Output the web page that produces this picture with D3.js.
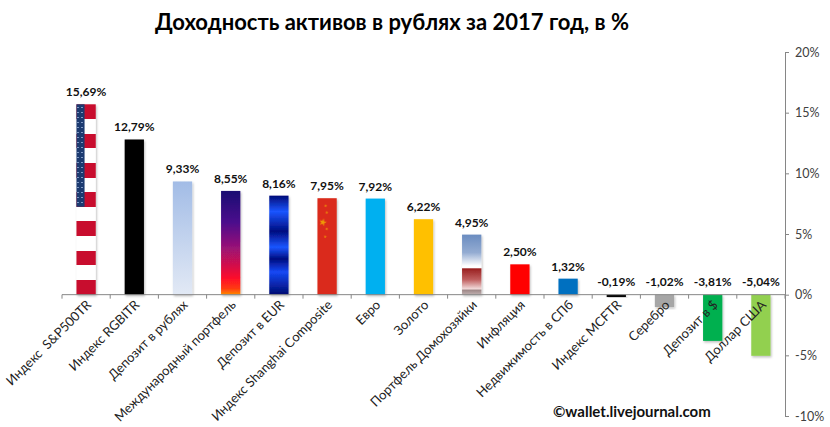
<!DOCTYPE html>
<html><head><meta charset="utf-8">
<script src="https://cdn.jsdelivr.net/npm/d3@7"></script>
<style>
html,body{margin:0;padding:0;background:#fff;}
svg{display:block;}
text{font-family:Lato,"Open Sans",sans-serif;white-space:pre;}
</style></head>
<body>
<svg id="c" width="830" height="427"></svg>
<script>
const categories = ["Индекс  S&P500TR","Индекс RGBITR","Депозит в рублях","Международный портфель","Депозит в EUR","Индекс Shanghai Composite","Евро","Золото","Портфель Домохозяйки","Инфляция","Недвижимость в СПб","Индекс MCFTR","Серебро","Депозит в $","Доллар США"];
const values = [15.69, 12.79, 9.33, 8.55, 8.16, 7.95, 7.92, 6.22, 4.95, 2.50, 1.32, -0.19, -1.02, -3.81, -5.04];
const valueLabels = ["15,69%","12,79%","9,33%","8,55%","8,16%","7,95%","7,92%","6,22%","4,95%","2,50%","1,32%","-0,19%","-1,02%","-3,81%","-5,04%"];
const yTicks = [-10, -5, 0, 5, 10, 15, 20];
const barFills = ["url(#gUS)","#000000","url(#gRub)","url(#gIntl)","url(#gEur)","#da2c1b","#00b0f0","#ffc000","url(#gHouse)","#ff0000","#0070c0","#000000","#a6a6a6","#00b050","#92d050"];
const title = "Доходность активов в рублях за 2017 год, в %";
const credit = "©wallet.livejournal.com";

const svg = d3.select("#c");
const defs = svg.append("defs");

function grad(id, stops){
  const g = defs.append("linearGradient").attr("id", id).attr("x1",0).attr("y1",0).attr("x2",0).attr("y2",1);
  stops.forEach(s => g.append("stop").attr("offset", s[0]).attr("stop-color", s[1]));
}
const usStops = [];
for (let i = 0; i < 13; i++) {
  const c = i % 2 === 0 ? "#c8102e" : "#ffffff";
  usStops.push([i/13, c]); usStops.push([(i+1)/13, c]);
}
grad("gUS", usStops);
grad("gRub", [[0,"#a2bce6"],[1,"#e2e9f5"]]);
grad("gIntl", [[0,"#1a0a72"],[0.3,"#4a0a8c"],[0.55,"#9a1276"],[0.85,"#ff1028"],[0.94,"#ff3a10"],[1,"#ff8a00"]]);
grad("gEur", [[0,"#000c78"],[0.16,"#1a55ff"],[0.36,"#000c80"],[0.52,"#1a55ff"],[0.64,"#000c80"],[0.77,"#1448f5"],[1,"#000a70"]]);
grad("gHouse", [[0,"#6a8cc0"],[0.3,"#94acd2"],[0.52,"#ffffff"],[0.55,"#ffffff"],[0.57,"#9a2020"],[0.75,"#c06060"],[0.9,"#f0d8d8"],[0.93,"#a08a8a"],[1,"#c0b0b0"]]);
const pat = defs.append("pattern").attr("id","pStars").attr("patternUnits","userSpaceOnUse").attr("width",4).attr("height",5);
pat.append("rect").attr("width",4).attr("height",5).attr("fill","#1c3a70");
pat.append("rect").attr("x",1).attr("y",2).attr("width",2).attr("height",1).attr("fill","#7f98c4");
const f = defs.append("filter").attr("id","sh").attr("x","-30%").attr("y","-10%").attr("width","160%").attr("height","130%");
f.append("feDropShadow").attr("dx",1).attr("dy",1.5).attr("stdDeviation",1.2).attr("flood-color","#000").attr("flood-opacity",0.25);
const blur = defs.append("filter").attr("id","bl");
blur.append("feGaussianBlur").attr("stdDeviation",0.6);

const x = d3.scaleBand().domain(categories).range([62, 785]).paddingInner(0.6).paddingOuter(0.3);
const y = d3.scaleLinear().domain([-10, 20]).range([416, 52]);
const step = x.step();

svg.append("text").attr("x", 392).attr("y", 30).attr("text-anchor","middle")
  .attr("font-size", 22).attr("font-weight","bold").attr("fill","#000").text(title);

const bars = svg.append("g");
bars.selectAll("rect").data(values).join("rect")
  .attr("x", (d,i) => x(categories[i]))
  .attr("width", x.bandwidth())
  .attr("y", d => y(Math.max(0,d)))
  .attr("height", d => Math.abs(y(d) - y(0)))
  .attr("fill", (d,i) => barFills[i])
  .attr("filter","url(#sh)");

const usH = y(0) - y(values[0]);
bars.append("rect").attr("x", x(categories[0])).attr("y", y(values[0]))
  .attr("width", x.bandwidth()*0.42).attr("height", usH*7/13).attr("fill","url(#pStars)");

const cx0 = x(categories[5]), cy0 = y(values[5]), cH = y(0) - y(values[5]), bw = x.bandwidth();
const star = d3.symbol().type(d3.symbolStar);
[[0.28,0.25,18],[0.42,0.08,3],[0.48,0.15,3],[0.48,0.32,3],[0.4,0.4,3]].forEach(s => {
  bars.append("path").attr("d", star.size(s[2])())
    .attr("transform", `translate(${cx0 + bw*s[0]},${cy0 + cH*s[1]}) rotate(15)`)
    .attr("fill","#f5b800").attr("opacity",0.8).attr("filter","url(#bl)");
});

const axisColor = "#868686";
svg.append("line").attr("x1", 62).attr("x2", 785).attr("y1", y(0)).attr("y2", y(0)).attr("stroke", axisColor);
svg.append("g").selectAll("line").data(d3.range(categories.length + 1)).join("line")
  .attr("x1", i => 62 + i*step).attr("x2", i => 62 + i*step)
  .attr("y1", y(0)).attr("y2", y(0) + 4).attr("stroke", axisColor);

const ra = svg.append("g").attr("transform", "translate(785,0)")
  .call(d3.axisRight(y).tickValues(yTicks).tickSize(4).tickFormat(d => d + "%"));
ra.select(".domain").attr("stroke", axisColor);
ra.selectAll(".tick line").attr("stroke", axisColor);
ra.selectAll(".tick text").attr("font-family","Lato, sans-serif").attr("font-size", 12.5).attr("fill","#404040").attr("x", 10);

svg.append("g").selectAll("text").data(categories).join("text")
  .attr("transform", d => `translate(${x(d) + x.bandwidth()/2 + 6},${y(0) + 11}) rotate(-45)`)
  .attr("text-anchor","end").attr("font-size", 13).attr("fill","#222").text(d => d);

svg.append("g").selectAll("text").data(values).join("text")
  .attr("x", (d,i) => x(categories[i]) + x.bandwidth()/2)
  .attr("y", d => d >= 0 ? y(d) - 8 : y(0) - 9)
  .attr("text-anchor","middle").attr("font-size", 12).attr("font-weight","bold").attr("fill","#111")
  .text((d,i) => valueLabels[i]);

svg.append("text").attr("x", 553).attr("y", 417).attr("font-size", 15).attr("font-weight","bold").attr("fill","#111").text(credit);
</script>
</body></html>
